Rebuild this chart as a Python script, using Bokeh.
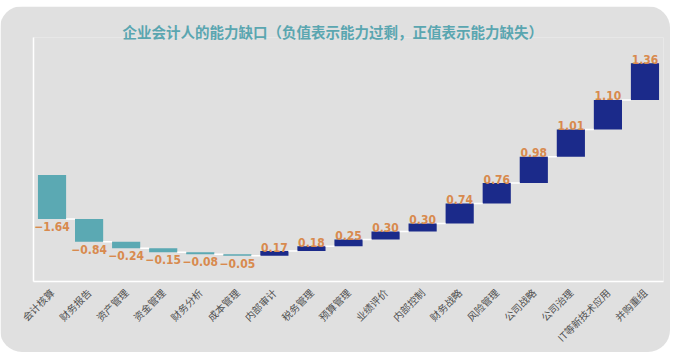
import math
from bokeh.plotting import figure
from bokeh.models import FactorRange, Range1d, ColumnDataSource, FixedTicker
from bokeh.core.properties import value
from bokeh.embed import file_html
from bokeh.resources import INLINE

categories = ["会计核算", "财务报告", "资产管理", "资金管理", "财务分析", "成本管理",
              "内部审计", "税务管理", "预算管理", "业绩评价", "内部控制", "财务战略",
              "风险管理", "公司战略", "公司治理", "IT等新技术应用", "并购重组"]
gaps = [-1.64, -0.84, -0.24, -0.15, -0.08, -0.05, 0.17, 0.18, 0.25, 0.30, 0.30,
        0.74, 0.76, 0.98, 1.01, 1.10, 1.36]
start_level = 4.0
title_text = "企业会计人的能力缺口（负值表示能力过剩，正值表示能力缺失）"

CARD = "#e0e0e0"
TEAL = "#5ba9b3"
NAVY = "#1b2a8a"
ORANGE = "#d88a4e"
PX = 27.0  # pixels per unit
Y0, Y1 = 0.04, 9.11

starts, ends = [], []
lvl = start_level
for g in gaps:
    starts.append(lvl)
    lvl = lvl + g
    ends.append(lvl)

tops = [max(a, b) for a, b in zip(starts, ends)]
bots = [min(a, b) for a, b in zip(starts, ends)]
colors = [TEAL if g < 0 else NAVY for g in gaps]
labels = [("\u2212%.2f" % abs(g)) if g < 0 else ("%.2f" % g) for g in gaps]
label_y = [(e - 3.0 / PX) if g < 0 else (e + 4.0 / PX) for g, e in zip(gaps, ends)]
label_base = ["top" if g < 0 else "alphabetic" for g in gaps]

p = figure(width=670, height=346, x_range=FactorRange(*categories, range_padding=0),
           y_range=Range1d(Y0, Y1), output_backend="svg", toolbar_location=None,
           min_border_left=33, min_border_right=7, min_border_top=31, min_border_bottom=70)
p.styles = {"border-radius": "22px", "overflow": "hidden", "margin-top": "6px"}
p.background_fill_color = CARD
p.border_fill_color = CARD
p.outline_line_color = None
p.xgrid.grid_line_color = None
p.ygrid.grid_line_color = None

p.title.text = title_text
p.title.align = "left"
p.title.offset = 89
p.title.standoff = -9
p.title.text_color = "#5aa6b0"
p.title.text_font_size = "14.5px"
p.title.text_font_style = "bold"
p.title.text_font = "Noto Sans CJK SC"

src = ColumnDataSource(dict(cat=categories, top=tops, bottom=bots, color=colors,
                            label=labels, ly=label_y, base=label_base))
p.vbar(x="cat", top="top", bottom="bottom", width=0.76, color="color", line_color=None, source=src)

# connectors
hw = 0.38
sx0 = [i + 0.5 + hw for i in range(len(gaps) - 1)]
sx1 = [i + 1.5 - hw for i in range(len(gaps) - 1)]
sy = ends[:-1]
p.segment(x0=sx0, y0=sy, x1=sx1, y1=sy, line_color="white", line_width=1.5)

p.text(x="cat", y="ly", text="label", source=src, text_align="center", text_baseline="base",
       text_color=ORANGE, text_font_style="bold", text_font_size="12px",
       text_font=value("'Liberation Sans Narrow', 'DejaVu Sans Condensed', 'Roboto', sans-serif"))

p.xaxis.axis_line_color = "white"
p.xaxis.axis_line_width = 1.5
p.xaxis.major_tick_line_color = None
p.xaxis.minor_tick_line_color = None
p.xaxis.major_label_orientation = math.pi / 4
p.xaxis.major_label_text_font = "Noto Sans CJK SC"
p.xaxis.major_label_text_font_size = "10px"
p.xaxis.major_label_text_color = "#505050"
p.xaxis.major_label_standoff = 3

p.yaxis.ticker = FixedTicker(ticks=[])
p.yaxis.axis_line_color = "white"
p.yaxis.axis_line_width = 1.5
p.yaxis.major_tick_line_color = None
p.yaxis.minor_tick_line_color = None

open("out.html", "w").write(file_html(p, INLINE))
